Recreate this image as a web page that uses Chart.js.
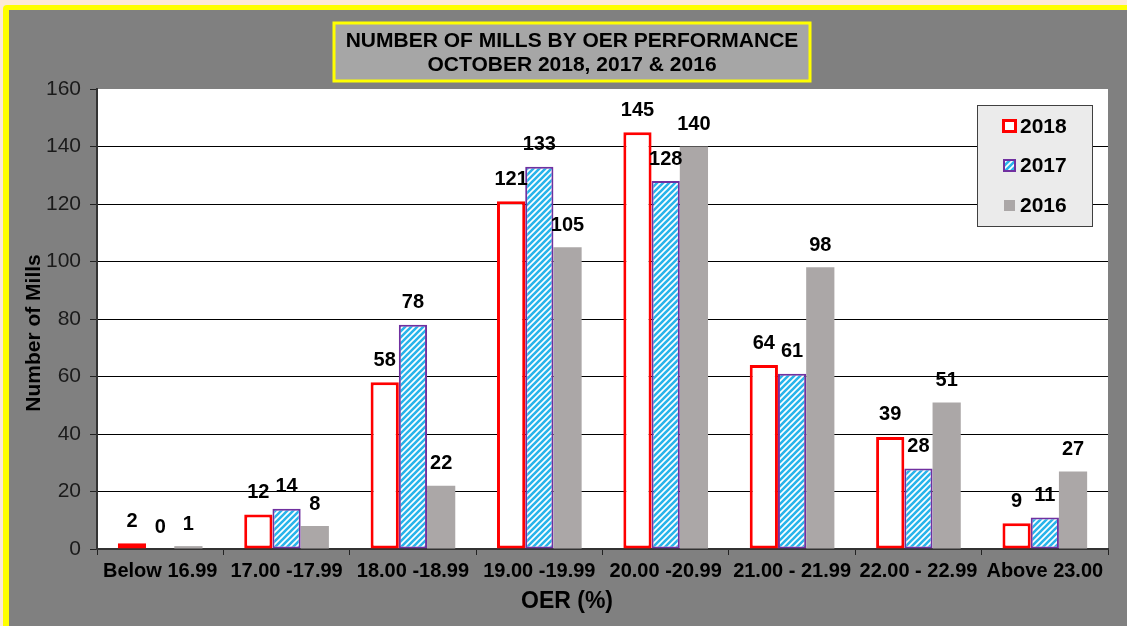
<!DOCTYPE html>
<html>
<head>
<meta charset="utf-8">
<script src="https://cdn.jsdelivr.net/npm/chart.js@4.4.1/dist/chart.umd.min.js"></script>
<style>
html,body{margin:0;padding:0;background:#fde9d9;}
canvas{display:block;}
</style>
</head>
<body>
<canvas id="c" width="1127" height="626"></canvas>
<script>
const categories = ["Below 16.99", "17.00 -17.99", "18.00 -18.99", "19.00 -19.99", "20.00 -20.99", "21.00 - 21.99", "22.00 - 22.99", "Above 23.00"];
const values2018 = [2, 12, 58, 121, 145, 64, 39, 9];
const values2017 = [0, 14, 78, 133, 128, 61, 28, 11];
const values2016 = [1, 8, 22, 105, 140, 98, 51, 27];
const seriesNames = ["2018", "2017", "2016"];
const titleLines = ["NUMBER OF MILLS BY OER PERFORMANCE", "OCTOBER 2018, 2017 & 2016"];
const yTitle = "Number of Mills";
const xTitle = "OER (%)";
const yMin = 0, yMax = 160, yStep = 20;

const FONT = "'Liberation Sans', Arial, sans-serif";

function makePattern() {
  const p = document.createElement('canvas');
  p.width = 6; p.height = 6;
  const g = p.getContext('2d');
  g.fillStyle = '#ffffff';
  g.fillRect(0, 0, 6, 6);
  g.strokeStyle = '#29b4ea';
  g.lineWidth = 2.6;
  g.beginPath();
  g.moveTo(-1, 7); g.lineTo(7, -1);
  g.moveTo(-4, 4); g.lineTo(4, -4);
  g.moveTo(2, 10); g.lineTo(10, 2);
  g.stroke();
  return document.getElementById('c').getContext('2d').createPattern(p, 'repeat');
}
const stripe = makePattern();

const bgPlugin = {
  id: 'bg',
  beforeDraw(chart) {
    const ctx = chart.ctx;
    const W = chart.width, H = chart.height;
    ctx.save();
    ctx.fillStyle = '#fde9d9';
    ctx.fillRect(0, 0, W, H);
    ctx.fillStyle = '#ffff00';
    ctx.beginPath();
    ctx.roundRect(3, 5, W + 20, H + 20, 4);
    ctx.fill();
    ctx.fillStyle = '#808080';
    ctx.fillRect(9, 10, W, H);
    const a = chart.chartArea;
    ctx.fillStyle = '#ffffff';
    ctx.fillRect(a.left, a.top, a.right - a.left, a.bottom - a.top);
    ctx.restore();
  }
};

const labelPlugin = {
  id: 'vals',
  afterDatasetsDraw(chart) {
    const ctx = chart.ctx;
    ctx.save();
    ctx.font = "bold 20px " + FONT;
    ctx.fillStyle = '#000';
    ctx.textAlign = 'center';
    ctx.textBaseline = 'bottom';
    chart.data.datasets.forEach((ds, i) => {
      const meta = chart.getDatasetMeta(i);
      meta.data.forEach((el, j) => {
        ctx.fillText(String(ds.data[j]), el.x, el.y - 12);
      });
    });
    ctx.restore();
  }
};

const decorPlugin = {
  id: 'decor',
  afterDraw(chart) {
    const ctx = chart.ctx;
    ctx.save();
    // title box
    ctx.fillStyle = '#a6a6a6';
    ctx.fillRect(334, 23, 476, 58);
    ctx.strokeStyle = '#ffff00';
    ctx.lineWidth = 3;
    ctx.strokeRect(334, 23, 476, 58);
    ctx.fillStyle = '#000';
    ctx.font = "bold 21px " + FONT;
    ctx.textAlign = 'center';
    ctx.textBaseline = 'middle';
    ctx.fillText(titleLines[0], 572, 41);
    ctx.fillText(titleLines[1], 572, 65);
    // axis titles
    ctx.font = "bold 23px " + FONT;
    ctx.fillText(xTitle, 567, 602);
    ctx.save();
    ctx.translate(34, 333);
    ctx.rotate(-Math.PI / 2);
    ctx.font = "bold 21px " + FONT;
    ctx.fillText(yTitle, 0, 0);
    ctx.restore();
    // legend box
    ctx.fillStyle = '#ebebeb';
    ctx.fillRect(977.5, 105.5, 115, 121);
    ctx.strokeStyle = '#404040';
    ctx.lineWidth = 1;
    ctx.strokeRect(977.5, 105.5, 115, 121);
    const ys = [126, 165, 205];
    ctx.textAlign = 'left';
    ctx.font = "bold 21px " + FONT;
    // 2018 swatch
    ctx.fillStyle = '#fff';
    ctx.fillRect(1002, 120, 14, 12);
    ctx.strokeStyle = '#ff0000';
    ctx.lineWidth = 3;
    ctx.strokeRect(1003.5, 120.5, 12, 11);
    // 2017 swatch
    ctx.fillStyle = stripe;
    ctx.fillRect(1003, 159, 12, 12);
    ctx.strokeStyle = '#7030a0';
    ctx.lineWidth = 2;
    ctx.strokeRect(1004, 160, 11, 11);
    // 2016 swatch
    ctx.fillStyle = '#aba7a7';
    ctx.fillRect(1004, 200, 11, 11);
    ctx.fillStyle = '#000';
    seriesNames.forEach((n, i) => ctx.fillText(n, 1020, ys[i] + 1));
    ctx.restore();
  }
};

new Chart(document.getElementById('c'), {
  type: 'bar',
  data: {
    labels: categories,
    datasets: [
      { label: seriesNames[0], data: values2018, backgroundColor: '#ffffff', borderColor: '#ff0000', borderWidth: 3, borderSkipped: false },
      { label: seriesNames[1], data: values2017, backgroundColor: stripe, borderColor: '#7030a0', borderWidth: 2, borderSkipped: false },
      { label: seriesNames[2], data: values2016, backgroundColor: '#aba7a7', borderWidth: 0 }
    ]
  },
  options: {
    responsive: false,
    devicePixelRatio: 1,
    animation: false,
    layout: { padding: { left: 10, top: 89, right: 19, bottom: 0 } },
    categoryPercentage: 0.67,
    barPercentage: 1.0,
    plugins: { legend: { display: false }, title: { display: false }, tooltip: { enabled: false } },
    scales: {
      x: {
        grid: { offset: true, drawOnChartArea: false, drawTicks: true, tickLength: 6, tickColor: '#222', lineWidth: 1 },
        border: { display: true, color: '#333', width: 2 },
        ticks: { color: '#000', font: { family: FONT, size: 20, weight: 'bold' }, padding: 4, maxRotation: 0, autoSkip: false },
        title: { display: false },
        afterFit(s) { s.height = 77; }
      },
      y: {
        min: yMin, max: yMax,
        ticks: { stepSize: yStep, color: '#1a1a1a', font: { family: FONT, size: 21 }, padding: 9 },
        grid: { color: (c) => (c.tick && c.tick.value === yMax) ? 'rgba(0,0,0,0)' : '#000', tickColor: '#222', tickLength: 7, lineWidth: 1 },
        border: { display: true, color: '#333', width: 2 },
        title: { display: false },
        afterFit(s) { s.width = 87; }
      }
    }
  },
  plugins: [bgPlugin, labelPlugin, decorPlugin]
});
</script>
</body>
</html>
